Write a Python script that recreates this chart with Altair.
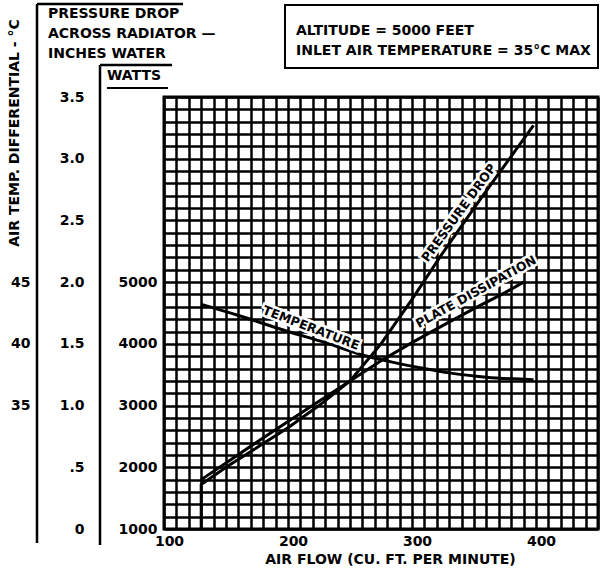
import altair as alt
import pandas as pd

# ---- data ----
air_flow_pressure = [130, 130, 150, 175, 200, 225, 250, 275, 300, 325, 350, 375, 398]
pressure_drop = [0.0, 0.36, 0.50, 0.66, 0.82, 1.00, 1.20, 1.50, 1.86, 2.24, 2.60, 2.95, 3.27]

air_flow_plate = [130, 150, 175, 200, 225, 250, 275, 300, 325, 350, 375, 390]
plate_watts = [1800, 2070, 2410, 2740, 3070, 3400, 3725, 4020, 4300, 4570, 4830, 5000]

air_flow_temp = [130, 160, 200, 230, 260, 285, 310, 330, 360, 398]
temp_diff = [43.2, 42.3, 41.0, 40.1, 39.1, 38.5, 38.0, 37.65, 37.3, 37.1]

x_grid = list(range(100, 451, 10))
pressure_grid = [round(i * 0.1, 1) for i in range(36)]
watts_ticks = [1000, 2000, 3000, 4000, 5000]
temp_ticks = [35, 40, 45]

FONT = "DejaVu Sans"

df_p = pd.DataFrame({"flow": air_flow_pressure, "p": pressure_drop,
                     "i": list(range(len(air_flow_pressure)))})
df_w = pd.DataFrame({"flow": air_flow_plate, "w": plate_watts})
df_t = pd.DataFrame({"flow": air_flow_temp, "t": temp_diff})

x_axis = alt.Axis(values=x_grid, grid=True, gridColor="black", gridWidth=2.5, gridOpacity=1,
                  domain=False, ticks=False, tickSize=0, labelOverlap=False, labelFlush=False,
                  labelExpr="datum.value % 100 == 0 ? datum.value : ''",
                  labelFont=FONT, labelFontSize=14, labelFontWeight="bold", labelColor="black",
                  labelPadding=5, labelOffset=5,
                  title="AIR FLOW (CU. FT. PER MINUTE)", titleFont=FONT, titleFontSize=14,
                  titleFontWeight="bold", titleColor="black", titlePadding=4, titleX=226)
x_enc = alt.X("flow:Q", scale=alt.Scale(domain=[100, 450], nice=False, zero=False), axis=x_axis)

pressure_line = alt.Chart(df_p).mark_line(color="black", strokeWidth=3).encode(
    x=x_enc,
    y=alt.Y("p:Q", scale=alt.Scale(domain=[0, 3.5], nice=False, zero=False),
            axis=alt.Axis(values=pressure_grid, grid=True, gridColor="black", gridWidth=2.5,
                          gridOpacity=1, domain=False, ticks=False, tickSize=0,
                          labelOverlap=False, orient="left", offset=80, labelPadding=0,
                          labelExpr="round(datum.value*10) % 5 == 0 ? (round(datum.value*10) == 0 ? '0' : (round(datum.value*10) == 5 ? '.5' : format(datum.value, '.1f'))) : ''",
                          labelFont=FONT, labelFontSize=14, labelFontWeight="bold",
                          labelColor="black", title=None)),
    order="i:Q",
)

plate_line = alt.Chart(df_w).mark_line(color="black", strokeWidth=3).encode(
    x=x_enc,
    y=alt.Y("w:Q", scale=alt.Scale(domain=[1000, 8000], nice=False, zero=False),
            axis=alt.Axis(values=watts_ticks, grid=False, domain=False, ticks=False, tickSize=0,
                          orient="left", offset=7, labelPadding=0, labelOverlap=False,
                          labelFont=FONT, labelFontSize=14, labelFontWeight="bold",
                          labelColor="black", format="d", title=None)),
)

temp_line = alt.Chart(df_t).mark_line(color="black", strokeWidth=3, interpolate="monotone").encode(
    x=x_enc,
    y=alt.Y("t:Q", scale=alt.Scale(domain=[25, 60], nice=False, zero=False),
            axis=alt.Axis(values=temp_ticks, grid=False, domain=False, ticks=False, tickSize=0,
                          orient="left", offset=134, labelPadding=0, labelOverlap=False,
                          labelFont=FONT, labelFontSize=14, labelFontWeight="bold",
                          labelColor="black", title=None)),
)

one = alt.Data(values=[{"a": 1}])


def label(txt, x, y, size=14, align="left", angle=0, baseline="alphabetic", halo=False):
    layers = []
    if halo:
        layers.append(alt.Chart(one).mark_text(
            text=txt, font=FONT, fontSize=size, fontWeight="bold", align=align,
            baseline=baseline, angle=angle, color="white", stroke="white", strokeWidth=5
        ).encode(x=alt.value(x), y=alt.value(y)))
    layers.append(alt.Chart(one).mark_text(
        text=txt, font=FONT, fontSize=size, fontWeight="bold", align=align,
        baseline=baseline, angle=angle, color="black"
    ).encode(x=alt.value(x), y=alt.value(y)))
    return layers


def rule(x, y, x2=None, y2=None, w=2.5):
    enc = {"x": alt.value(x), "y": alt.value(y)}
    if x2 is not None:
        enc["x2"] = alt.value(x2)
    if y2 is not None:
        enc["y2"] = alt.value(y2)
    return alt.Chart(one).mark_rule(color="black", strokeWidth=w).encode(**enc)


annotations = []
# left axis headers
annotations += label("PRESSURE DROP", -116, -79)
annotations += label("ACROSS RADIATOR \u2014", -116, -59)
annotations += label("INCHES WATER", -116, -39)
annotations += label("WATTS", -57, -17)
annotations += label("AIR TEMP. DIFFERENTIAL - \u00b0C", -149, 36, size=14, align="center",
                     angle=270, baseline="middle")
# legend box text
annotations += label("ALTITUDE = 5000 FEET", 132, -62)
annotations += label("INLET AIR TEMPERATURE = 35\u00b0C MAX", 132, -42)
# curve labels
annotations += label("TEMPERATURE", 147, 231, size=12.5, align="center", angle=21,
                     baseline="middle", halo=True)
annotations += label("PRESSURE DROP", 295, 116, size=12.5, align="center", angle=306,
                     baseline="middle", halo=True)
annotations += label("PLATE DISSIPATION", 312, 195, size=12.5, align="center", angle=331,
                     baseline="middle", halo=True)

frames = [
    rule(-127, -93, y2=446),
    rule(-127, -93, x2=19),
    rule(-64, -32, y2=448),
    rule(-64, -32, x2=8),
    rule(-57, -9, x2=4, w=2),
    alt.Chart(one).mark_rect(fill="white", stroke="black", strokeWidth=2).encode(
        x=alt.value(121), x2=alt.value(434), y=alt.value(-92), y2=alt.value(-29)),
]

chart = alt.layer(
    pressure_line, plate_line, temp_line, *frames, *annotations
).resolve_scale(y="independent").properties(
    width=434, height=432,
    padding={"left": 164, "top": 97, "right": 4, "bottom": 45},
    autosize=alt.AutoSizeParams(type="none"),
    background="white",
).configure_view(stroke="black", strokeWidth=3)

chart.save("out.html", embed_options={"renderer": "svg", "actions": False})
